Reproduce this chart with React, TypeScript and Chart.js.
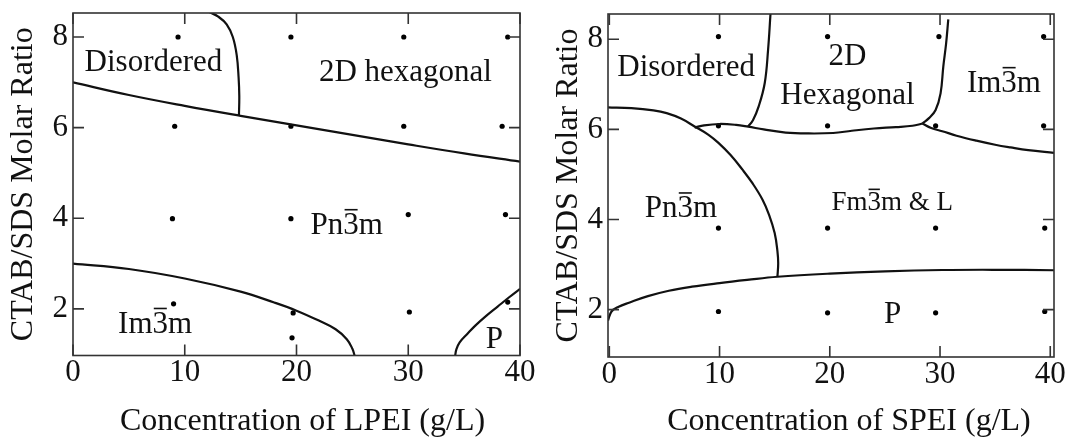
import React, { useEffect, useRef } from "react";
import { Chart, registerables } from "chart.js";

Chart.register(...registerables);

const SERIF = '"Liberation Serif", "Times New Roman", serif';

// ---------- shared axis ticks ----------
const X_TICKS = [0, 10, 20, 30, 40];
const Y_TICKS = [2, 4, 6, 8];

// ---------- LPEI panel: sampled compositions ----------
const LPEI_SAMPLE_X = [9.4, 19.5, 29.6, 38.9, 9.1, 19.5, 29.6, 38.4, 8.9, 19.5, 30.0, 38.7, 9.0, 19.7, 30.1, 38.9, 19.6];
const LPEI_SAMPLE_Y = [8.0, 8.0, 8.0, 8.0, 6.03, 6.03, 6.03, 6.03, 3.99, 3.99, 4.08, 4.08, 2.11, 1.91, 1.93, 2.15, 1.36];

// ---------- LPEI panel: phase boundaries ----------
const LPEI_UPPER_X = [0, 5, 10, 15, 20, 25, 30, 35, 40];
const LPEI_UPPER_Y = [7.0, 6.72, 6.48, 6.26, 6.05, 5.84, 5.63, 5.43, 5.25];
const LPEI_DISORDER_X = [12.2, 13.0, 13.75, 14.3, 14.65, 14.82, 14.88, 14.85];
const LPEI_DISORDER_Y = [8.55, 8.45, 8.28, 8.0, 7.6, 7.1, 6.7, 6.27];
const LPEI_IM3M_X = [0, 5, 10, 15, 18, 20, 22, 23.5, 24.5, 25.0, 25.2];
const LPEI_IM3M_Y = [3.0, 2.88, 2.67, 2.38, 2.14, 1.96, 1.74, 1.55, 1.33, 1.12, 0.97];
const LPEI_P_X = [34.2, 34.3, 34.6, 35.3, 36.0, 37.0, 38.0, 39.0, 40];
const LPEI_P_Y = [0.97, 1.1, 1.26, 1.45, 1.63, 1.85, 2.05, 2.25, 2.44];

// ---------- SPEI panel: sampled compositions ----------
const SPEI_SAMPLE_X = [9.9, 19.8, 29.9, 39.4, 9.9, 19.8, 29.6, 39.4, 9.9, 19.8, 29.6, 39.5, 9.9, 19.8, 29.6, 39.5];
const SPEI_SAMPLE_Y = [8.06, 8.06, 8.06, 8.06, 6.08, 6.08, 6.08, 6.08, 3.81, 3.81, 3.81, 3.81, 1.96, 1.93, 1.93, 1.96];

// ---------- SPEI panel: phase boundaries ----------
const SPEI_DISORDER_X = [14.62, 14.4, 14.1, 13.55, 13.04, 12.58];
const SPEI_DISORDER_Y = [8.56, 7.76, 7.03, 6.51, 6.21, 6.06];
const SPEI_HEX_LOW_X = [7.74, 8.6, 10.0, 11.5, 12.6, 14.0, 16.0, 18.0, 20.3, 22.0, 24.0, 26.0, 27.5, 28.4];
const SPEI_HEX_LOW_Y = [6.04, 6.09, 6.12, 6.1, 6.06, 6.0, 5.93, 5.91, 5.92, 5.97, 6.02, 6.05, 6.08, 6.13];
const SPEI_IM3M_X = [30.75, 30.55, 30.3, 30.05, 29.6, 29.0, 28.4];
const SPEI_IM3M_Y = [8.44, 7.9, 7.4, 6.8, 6.43, 6.25, 6.13];
const SPEI_RIGHT_X = [28.4, 29.2, 30.2, 31.5, 33.3, 35.0, 36.4, 38.0, 40.34];
const SPEI_RIGHT_Y = [6.13, 6.03, 5.96, 5.86, 5.75, 5.66, 5.6, 5.54, 5.48];
const SPEI_PN3M_X = [-0.12, 2, 4, 5.2, 6.5, 7.7, 9.0, 9.9, 11.0, 12.1, 13.0, 13.9, 14.5, 15.0, 15.25, 15.32, 15.25];
const SPEI_PN3M_Y = [6.49, 6.47, 6.42, 6.36, 6.24, 6.07, 5.88, 5.7, 5.43, 5.1, 4.8, 4.44, 4.1, 3.7, 3.3, 3.03, 2.73];
const SPEI_LOWER_X = [-0.12, 0.2, 0.8, 1.85, 3.5, 5.4, 7.5, 10, 12.5, 15.25, 20, 25, 30.2, 35, 40.34];
const SPEI_LOWER_Y = [1.76, 1.96, 2.06, 2.16, 2.3, 2.42, 2.51, 2.59, 2.66, 2.73, 2.8, 2.85, 2.88, 2.885, 2.875];

// ---------- region names (anchored in data units) ----------
const LPEI_NAMES = ["Disordered", "2D hexagonal", "Pn3m", "Im3m", "P"];
const LPEI_NAME_X = [7.2, 29.75, 24.5, 7.35, 37.7];
const LPEI_NAME_Y = [7.48, 7.25, 3.88, 1.7, 1.37];
const SPEI_NAMES = ["Disordered", "2D", "Hexagonal", "Im3m", "Pn3m", "Fm3m & L", "P"];
const SPEI_NAME_X = [6.97, 21.6, 21.6, 35.8, 6.5, 25.66, 25.7];
const SPEI_NAME_Y = [7.42, 7.65, 6.8, 7.06, 4.28, 4.4, 1.93];

const zip = (xs: number[], ys: number[]) => xs.map((x, i) => ({ x, y: ys[i] }));

function lineDs(xs: number[], ys: number[]) {
  return {
    type: "line" as const,
    data: zip(xs, ys),
    showLine: true,
    borderColor: "#111",
    borderWidth: 2.2,
    pointRadius: 0,
    tension: 0.4,
    fill: false,
  };
}

function dotDs(xs: number[], ys: number[]) {
  return {
    type: "scatter" as const,
    data: zip(xs, ys),
    showLine: false,
    pointRadius: 2.6,
    pointBackgroundColor: "#000",
    pointBorderWidth: 0,
  };
}

function drawName(ctx: CanvasRenderingContext2D, text: string, cx: number, cy: number, size: number) {
  ctx.save();
  ctx.font = `${size}px ${SERIF}`;
  ctx.fillStyle = "#111";
  ctx.textBaseline = "alphabetic";
  ctx.textAlign = "left";
  const w = ctx.measureText(text).width;
  const x0 = cx - w / 2;
  const base = cy + size * 0.33;
  ctx.fillText(text, x0, base);
  const bi = text.indexOf("3");
  if (bi >= 0) {
    const pre = ctx.measureText(text.slice(0, bi)).width;
    const cw = ctx.measureText("3").width;
    const by = base - size * 0.78;
    ctx.strokeStyle = "#111";
    ctx.lineWidth = 1.6;
    ctx.beginPath();
    ctx.moveTo(x0 + pre + cw * 0.08, by);
    ctx.lineTo(x0 + pre + cw * 0.92, by);
    ctx.stroke();
  }
  ctx.restore();
}

function makeFramePlugin(names: string[], nx: number[], ny: number[], xTitle: string, titleShift: number) {
  return {
    id: "frameAndNames",
    afterDraw(chart: any) {
      const { ctx, chartArea: a, scales } = chart;
      const xs = scales.x;
      const ys = scales.y;
      ctx.save();
      ctx.strokeStyle = "#333";
      ctx.lineWidth = 1.6;
      ctx.strokeRect(a.left, a.top, a.right - a.left, a.bottom - a.top);
      const tl = 11;
      ctx.beginPath();
      X_TICKS.forEach((v) => {
        const px = xs.getPixelForValue(v);
        ctx.moveTo(px, a.bottom);
        ctx.lineTo(px, a.bottom - tl);
        ctx.moveTo(px, a.top);
        ctx.lineTo(px, a.top + tl);
      });
      Y_TICKS.forEach((v) => {
        const py = ys.getPixelForValue(v);
        ctx.moveTo(a.left, py);
        ctx.lineTo(a.left + tl, py);
        ctx.moveTo(a.right, py);
        ctx.lineTo(a.right - tl, py);
      });
      ctx.stroke();
      // x-axis title
      ctx.font = `32px ${SERIF}`;
      ctx.fillStyle = "#111";
      ctx.textAlign = "center";
      ctx.textBaseline = "alphabetic";
      ctx.fillText(xTitle, (a.left + a.right) / 2 + titleShift, 430);
      ctx.restore();
      names.forEach((t, i) => {
        const size = t.indexOf("&") >= 0 ? 27 : 31;
        drawName(ctx, t, xs.getPixelForValue(nx[i]), ys.getPixelForValue(ny[i]), size);
      });
    },
  };
}

type PanelProps = {
  left: number;
  width: number;
  xMin: number;
  xMax: number;
  yMin: number;
  yMax: number;
  yAxisWidth: number;
  xAxisHeight: number;
  padRight: number;
  padTop: number;
  xTitle: string;
  titleShift: number;
  datasets: any[];
  names: string[];
  nx: number[];
  ny: number[];
};

function Panel(p: PanelProps) {
  const ref = useRef<HTMLCanvasElement | null>(null);
  useEffect(() => {
    if (!ref.current) return;
    const tickFont = { family: SERIF, size: 31, lineHeight: 1 };
    const titleFont = { family: SERIF, size: 32, lineHeight: 1 };
    const chart = new Chart(ref.current, {
      type: "scatter",
      data: { datasets: p.datasets },
      options: {
        animation: false,
        responsive: false,
        devicePixelRatio: 1,
        layout: { padding: { left: 0, right: p.padRight, top: p.padTop, bottom: 0 } },
        plugins: { legend: { display: false }, tooltip: { enabled: false } },
        scales: {
          x: {
            type: "linear",
            min: p.xMin,
            max: p.xMax,
            afterBuildTicks: (s: any) => {
              s.ticks = X_TICKS.map((v) => ({ value: v }));
            },
            afterFit: (s: any) => {
              s.height = p.xAxisHeight;
              s.paddingLeft = 0;
              s.paddingRight = 0;
            },
            grid: { display: false, drawTicks: false },
            border: { display: false },
            ticks: { font: tickFont, color: "#111", padding: 2, maxRotation: 0, autoSkip: false },
            title: { display: false },
          },
          y: {
            type: "linear",
            min: p.yMin,
            max: p.yMax,
            afterBuildTicks: (s: any) => {
              s.ticks = Y_TICKS.map((v) => ({ value: v }));
            },
            afterFit: (s: any) => {
              s.width = p.yAxisWidth;
              s.paddingTop = 0;
              s.paddingBottom = 0;
            },
            grid: { display: false, drawTicks: false },
            border: { display: false },
            ticks: { font: tickFont, color: "#111", padding: 5, autoSkip: false },
            title: {
              display: true,
              text: "CTAB/SDS Molar Ratio",
              font: titleFont,
              color: "#111",
              padding: { top: 8, bottom: 0 },
            },
          },
        },
      },
      plugins: [makeFramePlugin(p.names, p.nx, p.ny, p.xTitle, p.titleShift)],
    } as any);
    return () => chart.destroy();
  }, []);
  return (
    <canvas
      ref={ref}
      width={p.width}
      height={439}
      style={{ position: "absolute", left: p.left, top: 0, width: p.width, height: 439 }}
    />
  );
}

export default function App() {
  const lpeiSets = [
    lineDs(LPEI_UPPER_X, LPEI_UPPER_Y),
    lineDs(LPEI_DISORDER_X, LPEI_DISORDER_Y),
    lineDs(LPEI_IM3M_X, LPEI_IM3M_Y),
    lineDs(LPEI_P_X, LPEI_P_Y),
    dotDs(LPEI_SAMPLE_X, LPEI_SAMPLE_Y),
  ];
  const speiSets = [
    lineDs(SPEI_DISORDER_X, SPEI_DISORDER_Y),
    lineDs(SPEI_HEX_LOW_X, SPEI_HEX_LOW_Y),
    lineDs(SPEI_IM3M_X, SPEI_IM3M_Y),
    lineDs(SPEI_RIGHT_X, SPEI_RIGHT_Y),
    lineDs(SPEI_PN3M_X, SPEI_PN3M_Y),
    lineDs(SPEI_LOWER_X, SPEI_LOWER_Y),
    dotDs(SPEI_SAMPLE_X, SPEI_SAMPLE_Y),
  ];
  return (
    <div style={{ position: "fixed", left: 0, top: 0, width: 1070, height: 439, background: "#fff", overflow: "hidden" }}>
      <Panel
        left={0}
        width={545}
        xMin={0}
        xMax={40}
        yMin={0.97}
        yMax={8.53}
        yAxisWidth={73}
        xAxisHeight={83.5}
        padRight={25}
        padTop={13}
        xTitle="Concentration of LPEI (g/L)"
        titleShift={6}
        datasets={lpeiSets}
        names={LPEI_NAMES}
        nx={LPEI_NAME_X}
        ny={LPEI_NAME_Y}
      />
      <Panel
        left={545}
        width={525}
        xMin={-0.12}
        xMax={40.34}
        yMin={0.95}
        yMax={8.56}
        yAxisWidth={63}
        xAxisHeight={82}
        padRight={16}
        padTop={14}
        xTitle="Concentration of SPEI (g/L)"
        titleShift={18}
        datasets={speiSets}
        names={SPEI_NAMES}
        nx={SPEI_NAME_X}
        ny={SPEI_NAME_Y}
      />
    </div>
  );
}
